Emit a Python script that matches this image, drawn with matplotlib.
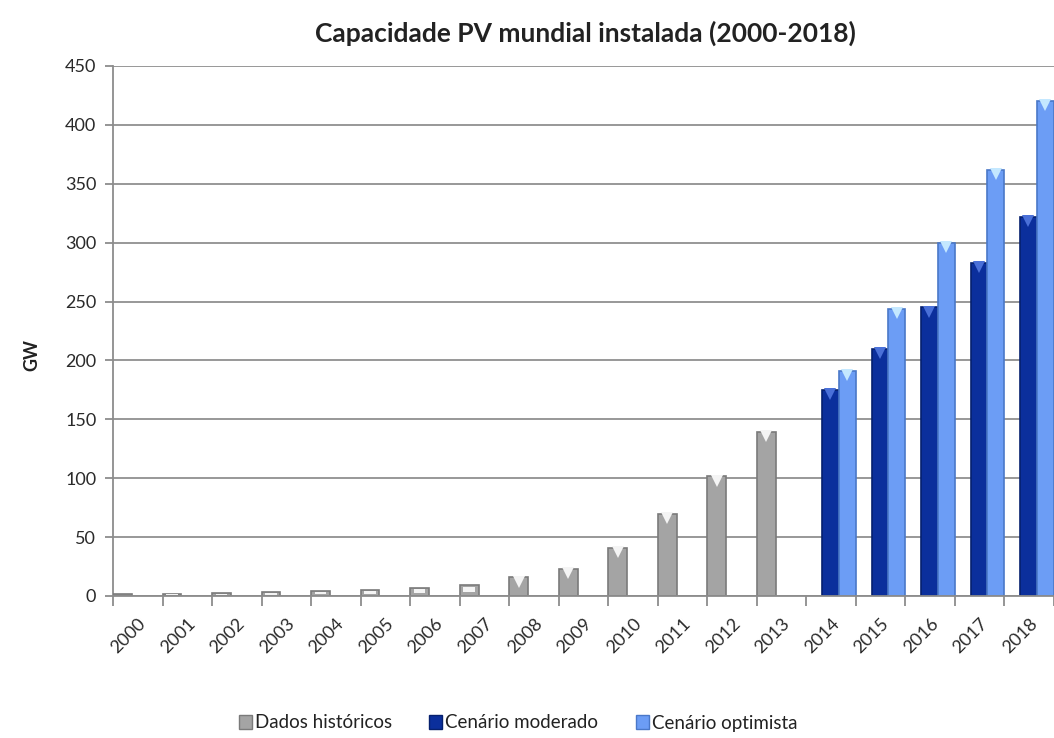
import matplotlib
matplotlib.use("Agg")
import matplotlib.pyplot as plt
from matplotlib.patches import Patch
import numpy as np

plt.rcParams['font.family'] = ['Lato', 'DejaVu Sans']

# data (GW)
anos = ['2000', '2001', '2002', '2003', '2004', '2005', '2006', '2007', '2008',
        '2009', '2010', '2011', '2012', '2013', '2014', '2015', '2016', '2017', '2018']
historico = [1.3, 1.6, 2.3, 3.0, 3.9, 5.3, 6.9, 9.4, 15.8, 23.0, 40.5, 70.0, 101.5, 139.0]
moderado = [175, 210, 245, 283, 322]
optimista = [191, 244, 300, 362, 420]

cinza, cinza_borda, cinza_topo = '#a4a4a4', '#7a7a7a', '#f4f4f4'
azul, azul_borda, azul_topo = '#0b2f9c', '#06206e', '#4a70d8'
claro, claro_borda, claro_topo = '#6c9df5', '#4a78c8', '#c4e8ff'

fig = plt.figure(figsize=(10.54, 7.38), dpi=100)
ax_left, ax_bottom = 113 / 1054, 142 / 738
ax = fig.add_axes([ax_left, ax_bottom, 1 - ax_left, 530 / 738])

cat_px = 49.7
ax.set_xlim(0, (1054 - 113) / cat_px)
ax.set_ylim(0, 450)


def barras(x0, vals, w, face, edge, topo):
    xs = np.asarray(x0, dtype=float)
    ax.bar(xs, vals, width=w, align='edge', color=face, edgecolor=edge,
           linewidth=1.2, zorder=3)
    # light chevron on top of each bar (3D bevel look)
    desloc = ax.transData + matplotlib.transforms.ScaledTranslation(0, -3 / 72, fig.dpi_scale_trans)
    for x, v in zip(xs, vals):
        if v > 12:
            ax.plot([x + w / 2], [v], marker='v', markersize=9, color=topo,
                    markeredgewidth=0, zorder=4, transform=desloc)
        else:
            ax.bar([x + w * 0.2], [v * 0.5], width=w * 0.6, bottom=[v * 0.35], align='edge',
                   color=topo, linewidth=0, zorder=4)


n_hist = len(historico)
idx_hist = np.arange(n_hist)
idx_proj = np.arange(n_hist, n_hist + len(moderado))

barras(idx_hist + 0.0, historico, 0.38, cinza, cinza_borda, cinza_topo)
barras(idx_proj + 0.32, moderado, 0.33, azul, azul_borda, azul_topo)
barras(idx_proj + 0.65, optimista, 0.35, claro, claro_borda, claro_topo)

# axes styling (Excel look)
for s in ['top', 'right']:
    ax.spines[s].set_visible(False)
for s in ['left', 'bottom']:
    ax.spines[s].set_color('#8c8c8c')
    ax.spines[s].set_linewidth(1.3)
ax.spines['bottom'].set_zorder(5)

ax.set_yticks(np.arange(0, 451, 50))
ax.yaxis.grid(True, color='#909090', linewidth=1.3, zorder=0)
ax.set_axisbelow(True)
ax.tick_params(axis='y', length=6, width=1.3, color='#8c8c8c', labelsize=13,
               labelcolor='#2a2a2a', pad=6)

ax.set_xticks(np.arange(len(anos)) + 0.5)
ax.set_xticklabels(anos, rotation=45, ha='right', rotation_mode='anchor')
ax.set_xticks(np.arange(len(anos) + 1), minor=True)
ax.tick_params(axis='x', which='major', length=0, labelsize=13, labelcolor='#2a2a2a', pad=14)
ax.tick_params(axis='x', which='minor', length=7, width=1.3, color='#8c8c8c')

fig.text(32 / 1054, 1 - 355 / 738, 'GW', rotation=90, ha='center', va='center',
         fontsize=13, fontweight='bold', color='#222222')
fig.text(585 / 1054, 1 - 33 / 738, 'Capacidade PV mundial instalada (2000-2018)',
         ha='center', va='center', fontsize=19, fontweight='bold', color='#222222')

handles = [Patch(facecolor=cinza, edgecolor=cinza_borda, label='Dados históricos'),
           Patch(facecolor=azul, edgecolor=azul_borda, label='Cenário moderado'),
           Patch(facecolor=claro, edgecolor=claro_borda, label='Cenário optimista')]
fig.legend(handles=handles, loc='center', bbox_to_anchor=(518 / 1054, 1 - 723 / 738),
           ncol=3, frameon=False, fontsize=13.5, handlelength=0.7, handleheight=0.7,
           handletextpad=0.15, columnspacing=2.0, labelcolor='#222222')

fig.savefig('out.png', dpi=100)
